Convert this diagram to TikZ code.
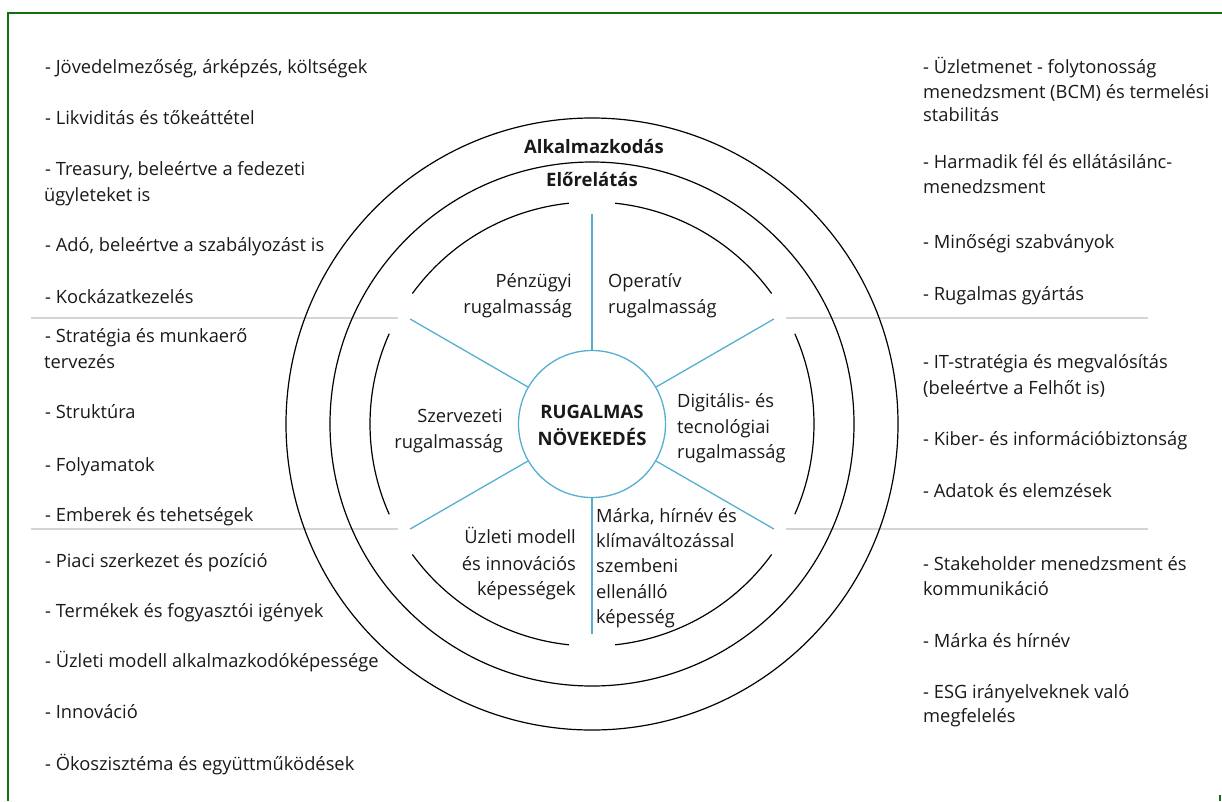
\documentclass[tikz,border=0pt]{standalone}
\usepackage{fontspec}
\setmainfont{Open Sans}
\definecolor{spoke}{RGB}{84,176,206}
\definecolor{sep}{RGB}{212,212,212}
\definecolor{frame}{RGB}{20,110,20}
\definecolor{ink}{RGB}{25,25,25}
\begin{document}
\begin{tikzpicture}[x=1pt,y=1pt,
  txt/.style={inner sep=0pt, text=ink, font=\fontsize{18.3}{22}\selectfont},
  lw/.style={txt, anchor=base west},
  le/.style={txt, anchor=base east},
  lc/.style={txt, anchor=base, font=\fontsize{18.5}{22}\selectfont\bfseries},
  ring/.style={draw=black, line width=1.2pt},
  spk/.style={draw=spoke, line width=1.3pt},
  sepline/.style={draw=sep, line width=1.2pt}]
\useasboundingbox (0,0) rectangle (1222,-801);
% frame
\draw[frame, line width=2pt] (8,-801) -- (8,-13) -- (1222,-13);
\draw[frame, line width=2pt] (1219.5,-795) -- (1219.5,-801);
% separators
\draw[sepline] (31,-318) -- (398,-318);
\draw[sepline] (786,-318) -- (1148,-318);
\draw[sepline] (31,-529) -- (398,-529);
\draw[sepline] (786,-529) -- (1148,-529);
% rings
\coordinate (c) at (592,-424);
\draw[ring] (c) circle[radius=306pt];
\draw[ring] (c) circle[radius=262pt];
\foreach \a in {36,96,156,216,276,336}
  \draw[ring] ([shift={(\a:222pt)}]c) arc[start angle=\a, delta angle=48, radius=222pt];
% centre
\node[circle, draw=spoke, line width=1.3pt, fill=white, minimum size=147pt, inner sep=0pt] (ctr) at (c) {};
\foreach \a in {30,90,150,210,270,330}{
  \coordinate (s\a) at ([shift={(\a:210pt)}]c);
  \draw[spk] (ctr.\a) -- (s\a);
}
\node[lc] (r1) at (592,-418) {RUGALMAS};
\node[lc] (r2) at (592,-445) {NÖVEKEDÉS};
\node[lc] (alk) at (594,-153) {Alkalmazkodás};
\node[lc] (elo) at (592,-186) {Előrelátás};
% sector labels
\node[le] (p1) at (572,-287) {Pénzügyi};
\node[le] (p2) at (572,-313) {rugalmasság};
\node[lw] (o1) at (608,-287) {Operatív};
\node[lw] (o2) at (608,-313) {rugalmasság};
\node[le] (sz1) at (503,-422) {Szervezeti};
\node[le] (sz2) at (503,-448) {rugalmasság};
\node[lw] (d1) at (677,-407) {Digitális- és};
\node[lw] (d2) at (677,-433) {tecnológiai};
\node[lw] (d3) at (677,-458) {rugalmasság};
\node[le] (u1) at (576,-543) {Üzleti modell};
\node[le] (u2) at (576,-570) {és innovációs};
\node[le] (u3) at (576,-595) {képességek};
\node[lw] (m1) at (596,-522) {Márka, hírnév és};
\node[lw] (m2) at (596,-547) {klímaváltozással};
\node[lw] (m3) at (596,-572) {szembeni};
\node[lw] (m4) at (596,-598) {ellenálló};
\node[lw] (m5) at (596,-623) {képesség};
% left column
\node[lw] (L1) at (45,-73) {- Jövedelmezőség, árképzés, költségek};
\node[lw] (L2) at (45,-124) {- Likviditás és tőkeáttétel};
\node[lw] (L3) at (45,-175) {- Treasury, beleértve a fedezeti};
\node[lw] (L3b) at (44,-201) {ügyleteket is};
\node[lw] (L4) at (45,-251) {- Adó, beleértve a szabályozást is};
\node[lw] (L5) at (45,-303) {- Kockázatkezelés};
\node[lw] (L6) at (45,-342) {- Stratégia és munkaerő};
\node[lw] (L6b) at (44,-368) {tervezés};
\node[lw] (L7) at (45,-418) {- Struktúra};
\node[lw] (L8) at (45,-471) {- Folyamatok};
\node[lw] (L9) at (45,-521) {- Emberek és tehetségek};
\node[lw] (L10) at (45,-567) {- Piaci szerkezet és pozíció};
\node[lw] (L11) at (45,-617) {- Termékek és fogyasztói igények};
\node[lw] (L12) at (45,-667) {- Üzleti modell alkalmazkodóképessége};
\node[lw] (L13) at (45,-718) {- Innováció};
\node[lw] (L14) at (45,-770) {- Ökoszisztéma és együttműködések};
% right column
\node[lw] (R1) at (923,-73) {- Üzletmenet - folytonosság};
\node[lw] (R1b) at (923,-98) {menedzsment (BCM) és termelési};
\node[lw] (R1c) at (923,-121) {stabilitás};
\node[lw] (R2) at (923,-168) {- Harmadik fél és ellátásilánc-};
\node[lw] (R2b) at (923,-193) {menedzsment};
\node[lw] (R3) at (923,-248) {- Minőségi szabványok};
\node[lw] (R4) at (923,-300) {- Rugalmas gyártás};
\node[lw] (R5) at (923,-368) {- IT-stratégia és megvalósítás};
\node[lw] (R5b) at (923,-394) {(beleértve a Felhőt is)};
\node[lw] (R6) at (923,-445) {- Kiber- és információbiztonság};
\node[lw] (R7) at (923,-497) {- Adatok és elemzések};
\node[lw] (R8) at (923,-570) {- Stakeholder menedzsment és};
\node[lw] (R8b) at (923,-595) {kommunikáció};
\node[lw] (R9) at (923,-647) {- Márka és hírnév};
\node[lw] (R10) at (923,-698) {- ESG irányelveknek való};
\node[lw] (R10b) at (923,-722) {megfelelés};
\end{tikzpicture}
\end{document}
